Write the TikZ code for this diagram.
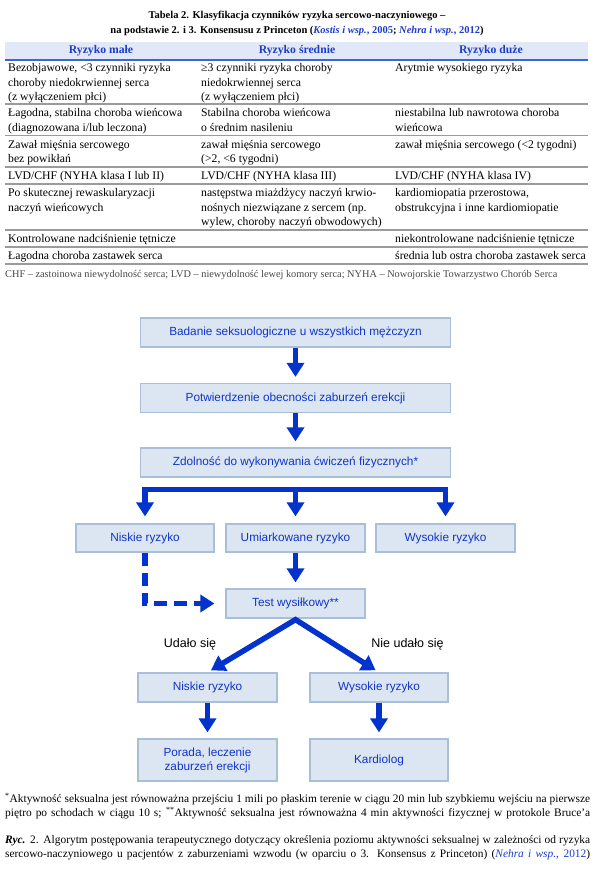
\documentclass[tikz,border=0pt]{standalone}
\usepackage{fontspec}
\setmainfont{Liberation Serif}
\setsansfont{Liberation Sans}
\usetikzlibrary{calc}
\usetikzlibrary{arrows.meta}
\definecolor{tabblue}{RGB}{30,60,200}
\definecolor{headfill}{RGB}{225,233,248}
\definecolor{headrule}{RGB}{58,102,216}
\definecolor{rulegray}{RGB}{155,155,155}
\definecolor{notegray}{RGB}{70,70,70}
\definecolor{boxfill}{RGB}{220,230,242}
\definecolor{boxdraw}{RGB}{169,191,217}
\definecolor{boxtext}{RGB}{16,52,200}
\definecolor{arrowblue}{RGB}{3,50,205}
\newcommand*{\colA }{8}
\newcommand*{\colB }{201}
\newcommand*{\colC }{395}
\newcommand*{\tabL }{5}
\newcommand*{\tabR }{588}
\newcommand*{\tabfont  }{\fontsize{11.7}{14.5}\selectfont}
\newcommand*{\titlefont}{\fontsize{10.5}{15}\selectfont}
\newcommand*{\notefont }{\fontsize{11.4}{14}\selectfont}
\newcommand*{\flowfont }{\fontsize{11.8}{14}\selectfont}
\newcommand*{\cytat}[2]{\textcolor{tabblue}{\textit{#1}, #2}}

\tikzset{
    % base west = baseline of the last line
    cell/.style     = {anchor=base west, inner sep=0pt, align=left, font=\tabfont},
    headcell/.style = {inner sep=0pt, font=\bfseries\tabfont, text=tabblue},
    rowrule/.style  = {draw=rulegray, line width=1.6pt},
    noteline/.style = {anchor=base west, inner sep=0pt, font=\notefont},
    flowbox/.style  = {draw=boxdraw, fill=boxfill, line width=1.2pt, text=boxtext,
                       font=\sffamily\flowfont, inner sep=0pt, align=center, minimum height=29pt},
    widebox/.style  = {flowbox, minimum width=310pt},
    smallbox/.style = {flowbox, minimum width=139pt},
    flowarrow/.style = {draw=arrowblue, line width=5.5pt, -{Triangle[length=14pt,width=17pt]}, shorten >=6pt},
    dasharrow/.style = {flowarrow, dash pattern=on 13pt off 7pt, shorten >=11pt},
    branchlabel/.style = {inner sep=0pt, font=\sffamily\fontsize{12.5}{15}\selectfont}
}

\begin{document}
\begin{tikzpicture}[x=1pt, y=-1pt]
    \useasboundingbox (0,0) rectangle (600,878);
    % tabela
    \node [font=\bfseries\titlefont] (tytulA) at (297,16) {Tabela 2. Klasyfikacja czynników ryzyka sercowo-naczyniowego –};
    \node [font=\bfseries\titlefont] (tytulB) at (297,31) {na podstawie 2. i 3. Konsensusu z Princeton (\cytat{Kostis i wsp.}{2005}; \cytat{Nehra i wsp.}{2012})};
    \fill [headfill] (\tabL,42) rectangle (\tabR,60);
    \draw [headrule, line width=1.5pt] (\tabL,60) -- (\tabR,60);
    \node [headcell] (naglA) at (101,50.5) {Ryzyko małe};
    \node [headcell] (naglB) at (297,50.5) {Ryzyko średnie};
    \node [headcell] (naglC) at (491,50.5) {Ryzyko duże};
    \draw [rowrule] (\tabL,104) -- (\tabR,104) (\tabL,135.5) -- (\tabR,135.5) (\tabL,167) -- (\tabR,167)
        (\tabL,184) -- (\tabR,184) (\tabL,230) -- (\tabR,230) (\tabL,247) -- (\tabR,247) (\tabL,264) -- (\tabR,264);

    \node [cell] (aA) at (\colA,100.5) {Bezobjawowe, <3 czynniki ryzyka\\choroby niedokrwiennej serca\\(z wyłączeniem płci)};
    \node [cell] (aB) at (\colB,100.5) {≥3 czynniki ryzyka choroby\\niedokrwiennej serca\\(z wyłączeniem płci)};
    \node [cell] (aC) at (\colC,71.5) {Arytmie wysokiego ryzyka};
    \node [cell] (bA) at (\colA,131) {Łagodna, stabilna choroba wieńcowa\\(diagnozowana i/lub leczona)};
    \node [cell] (bB) at (\colB,131) {Stabilna choroba wieńcowa\\o średnim nasileniu};
    \node [cell] (bC) at (\colC,131) {niestabilna lub nawrotowa choroba\\wieńcowa};
    \node [cell] (cA) at (\colA,162.5) {Zawał mięśnia sercowego\\bez powikłań};
    \node [cell] (cB) at (\colB,162.5) {zawał mięśnia sercowego\\(>2, <6 tygodni)};
    \node [cell] (cC) at (\colC,148) {zawał mięśnia sercowego (<2 tygodni)};
    \node [cell] (dA) at (\colA,179.5) {LVD/CHF (NYHA klasa I lub II)};
    \node [cell] (dB) at (\colB,179.5) {LVD/CHF (NYHA klasa III)};
    \node [cell] (dC) at (\colC,179.5) {LVD/CHF (NYHA klasa IV)};
    \node [cell] (eA) at (\colA,211) {Po skutecznej rewaskularyzacji\\naczyń wieńcowych};
    \node [cell] (eB) at (\colB,225.5) {następstwa miażdżycy naczyń krwio-\\nośnych niezwiązane z sercem (np.\\wylew, choroby naczyń obwodowych)};
    \node [cell] (eC) at (\colC,211) {kardiomiopatia przerostowa,\\obstrukcyjna i inne kardiomiopatie};
    \node [cell] (fA) at (\colA,242.5) {Kontrolowane nadciśnienie tętnicze};
    \node [cell] (fC) at (\colC,242.5) {niekontrolowane nadciśnienie tętnicze};
    \node [cell] (gA) at (\colA,259.5) {Łagodna choroba zastawek serca};
    \node [cell] (gC) at (\colC,259.5) {średnia lub ostra choroba zastawek serca};
    \node [noteline, text=notegray, font=\fontsize{10.3}{14}\selectfont] (skroty) at (\tabL,277.5) {CHF – zastoinowa niewydolność serca; LVD – niewydolność lewej komory serca; NYHA – Nowojorskie Towarzystwo Chorób Serca};

    % algorytm
    \node [widebox] (badanie) at (295.5,332.5) {Badanie seksuologiczne u wszystkich mężczyzn};
    \node [widebox] (potw) at (295.5,398) {Potwierdzenie obecności zaburzeń erekcji};
    \node [widebox] (zdolnosc) at (295.5,462.5) {Zdolność do wykonywania ćwiczeń fizycznych*};
    \node [smallbox, minimum width=138pt, minimum height=28pt] (niskie) at (145,538) {Niskie ryzyko};
    \node [smallbox, minimum height=28pt] (umiark) at (295.5,538) {Umiarkowane ryzyko};
    \node [smallbox, minimum height=28pt] (wysokie) at (445.5,538) {Wysokie ryzyko};
    \node [smallbox] (test) at (295.5,603.5) {Test wysiłkowy**};
    \node [smallbox] (niskieB) at (207.5,687.5) {Niskie ryzyko};
    \node [smallbox, minimum width=138pt] (wysokieB) at (379,687.5) {Wysokie ryzyko};
    \node [smallbox, minimum height=42pt] (porada) at (207.5,760) {Porada, leczenie\\zaburzeń erekcji};
    \node [smallbox, minimum width=138pt, minimum height=42pt] (kardiolog) at (379,760) {Kardiolog};
    \node [branchlabel] (udalo) at (190,644) {Udało się};
    \node [branchlabel] (nieudalo) at (407.5,644) {Nie udało się};
    \coordinate (rozwidl) at ($(zdolnosc.south)+(0,12)$);

    \draw [flowarrow] (badanie) -- (potw);
    \draw [flowarrow] (potw) -- (zdolnosc);
    \draw [flowarrow, {Triangle[length=14pt,width=17pt]}-{Triangle[length=14pt,width=17pt]}, shorten <=7pt, shorten >=7pt]
        (niskie.north) -- (niskie.north |- rozwidl) -- (wysokie.north |- rozwidl) -- (wysokie.north);
    \draw [flowarrow, shorten >=7pt] (umiark.north |- rozwidl) -- (umiark.north);
    \draw [flowarrow] (umiark) -- (test);
    \draw [dasharrow] (niskie.south) |- (test.west);
    \draw [flowarrow, {Triangle[length=14pt,width=17pt]}-{Triangle[length=14pt,width=17pt]}, shorten <=4pt, shorten >=4pt]
        (niskieB.north) -- ([yshift=-1pt]test.south) -- (wysokieB.north);
    \draw [flowarrow] (niskieB) -- (porada);
    \draw [flowarrow] (wysokieB) -- (kardiolog);

    % przypisy
    \node [noteline] (przypisA) at (\tabL,802) {\makebox[585pt][s]{\textsuperscript{*}Aktywność seksualna jest równoważna przejściu 1 mili po płaskim terenie w ciągu 20 min lub szybkiemu wejściu na pierwsze}};
    \node [noteline] (przypisB) at (\tabL,816) {\makebox[585pt][s]{piętro po schodach w ciągu 10 s; \textsuperscript{**}Aktywność seksualna jest równoważna 4 min aktywności fizycznej w protokole Bruce’a}};
    \node [noteline] (rycA) at (\tabL,843) {\makebox[585pt][s]{\textbf{\textit{Ryc.}} 2. Algorytm postępowania terapeutycznego dotyczący określenia poziomu aktywności seksualnej w zależności od ryzyka}};
    \node [noteline] (rycB) at (\tabL,857) {\makebox[585pt][s]{sercowo-naczyniowego u pacjentów z zaburzeniami wzwodu (w oparciu o 3. Konsensus z Princeton) (\cytat{Nehra i wsp.}{2012})}};
\end{tikzpicture}
\end{document}
